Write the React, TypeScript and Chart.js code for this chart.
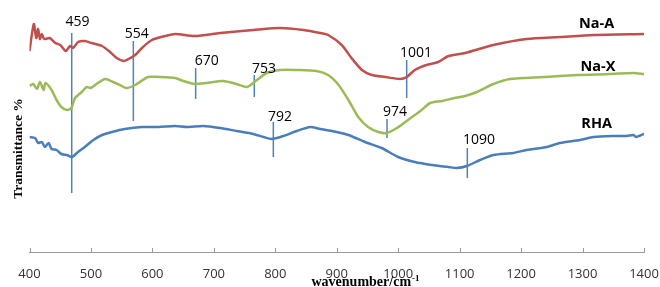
import { useEffect, useRef } from 'react';
import { Chart, registerables } from 'chart.js';

Chart.register(...registerables);

// ---- Data (wavenumber in cm-1, transmittance in arbitrary units) ----
const naAWave = [400,407,411,414,417,420,424,433,442,450,459,466,471,479,490,501,518,531,542,553,561,572,583,599,621,637,669,710,764,808,846,873,886,908,924,941,957,979,1003,1014,1027,1046,1065,1082,1109,1155,1209,1263,1318,1400];
const naAValue = [201,228,214,223,213,218,213,214,209,207,201,206,204,210,211,209,206,200,194,191,193,197,204,212,216,218,216,219,222,224,222,219,217,207,194,182,177,175,173,175,182,187,190,196,199,207,213,215,217,218];

const naXWave = [400,406,412,417,423,426,436,444,452,461,468,474,485,493,499,509,523,536,547,558,572,593,610,637,650,669,688,715,737,754,770,786,808,835,867,886,903,919,935,951,968,981,998,1016,1038,1052,1071,1092,1109,1128,1155,1182,1236,1291,1345,1383,1400];
const naXValue = [166,168,163,170,162,169,162,152,145,142,144,154,160,165,164,168,173,170,167,164,167,175,175,174,171,168,169,171,168,165,172,179,182,182,181,177,167,152,135,125,120,119,124,132,142,149,151,154,156,160,168,173,175,177,178,179,178];

const rhaWave = [400,409,414,420,425,431,436,444,452,461,469,479,490,504,518,534,555,583,610,637,656,683,710,737,764,781,794,813,835,857,873,892,919,946,973,1000,1027,1055,1082,1095,1112,1133,1155,1187,1209,1242,1263,1296,1318,1350,1372,1383,1387,1400];
const rhaValue = [115,114,109,110,105,109,103,102,98,97,95,100,105,112,117,120,123,125,125,126,125,126,124,121,118,115,113,116,121,125,123,121,117,110,104,95,90,87,85,84,86,92,97,99,102,105,109,112,115,116,116,117,115,118];

const seriesNames = ['Na-A', 'Na-X', 'RHA'];
const seriesLabelX = [1323, 1325, 1323];
const seriesLabelY = [228, 185, 128];

// Peak markers
const peakLabels = ['459', '554', '670', '753', '792', '974', '1001', '1090'];
const peakPos = [468.7, 569, 670.4, 765.8, 796.8, 981.8, 1013.8, 1112.5];
const peakTop = [219, 211, 184, 177, 130, 133, 192, 104];
const peakBottom = [59, 131, 153, 155, 95, 114, 154, 74];
const peakLabelX = [478, 574.5, 688.4, 781.6, 807.6, 994.8, 1028.9, 1131.5];
const peakLabelY = [230, 218, 191, 183, 135, 140, 199, 112];

const xTicksMin = 400;
const xTicksMax = 1400;
const xTickStep = 100;

const COLORS = ['#C0504D', '#9BBB59', '#4A7EBB'];
const MARKER_COLOR = '#4F81BD';

const annotPlugin = {
  id: 'annot',
  afterDatasetsDraw(chart: any) {
    const { ctx, chartArea } = chart;
    const x = chart.scales.x;
    const y = chart.scales.y;
    ctx.save();
    // tick marks (pointing up)
    ctx.strokeStyle = '#999999';
    ctx.lineWidth = 1;
    x.ticks.forEach((t: any) => {
      const px = Math.round(x.getPixelForValue(t.value)) + 0.5;
      ctx.beginPath();
      ctx.moveTo(px, chartArea.bottom - 4);
      ctx.lineTo(px, chartArea.bottom);
      ctx.stroke();
    });
    // peak labels
    ctx.fillStyle = '#000000';
    ctx.font = '14px "Open Sans"';
    ctx.textAlign = 'center';
    ctx.textBaseline = 'middle';
    peakLabels.forEach((t, i) => {
      ctx.fillText(t, x.getPixelForValue(peakLabelX[i]), y.getPixelForValue(peakLabelY[i]));
    });
    // series labels
    ctx.font = 'bold 14.5px "Open Sans"';
    seriesNames.forEach((t, i) => {
      ctx.fillText(t, x.getPixelForValue(seriesLabelX[i]), y.getPixelForValue(seriesLabelY[i]));
    });
    // x axis title
    ctx.textAlign = 'left';
    ctx.textBaseline = 'alphabetic';
    ctx.font = 'bold 14px "Liberation Serif"';
    const title = 'wavenumber/cm';
    const tx = 311.5;
    const ty = 285.5;
    ctx.fillText(title, tx, ty);
    const w = ctx.measureText(title).width;
    ctx.font = 'bold 9px "Liberation Serif"';
    ctx.fillText('-1', tx + w + 1, ty - 5);
    // y axis title
    ctx.save();
    ctx.translate(21.5, 148.5);
    ctx.rotate(-Math.PI / 2);
    ctx.font = 'bold 13.5px "Liberation Serif"';
    ctx.textAlign = 'center';
    ctx.fillText('Transmittance %', 0, 0);
    ctx.restore();
    ctx.restore();
  },
};

export default function App() {
  const canvasRef = useRef<HTMLCanvasElement | null>(null);

  useEffect(() => {
    if (!canvasRef.current) return;
    const mk = (xs: number[], ys: number[]) => xs.map((v, i) => ({ x: v, y: ys[i] }));
    const seriesDatasets = [
      mk(naAWave, naAValue),
      mk(naXWave, naXValue),
      mk(rhaWave, rhaValue),
    ].map((d, i) => ({
      label: seriesNames[i],
      data: d,
      borderColor: COLORS[i],
      borderWidth: 2.5,
      pointRadius: 0,
      fill: false,
      tension: 0.25,
    }));
    const markerDatasets = peakPos.map((p, i) => ({
      label: 'peak ' + peakLabels[i],
      data: [
        { x: p, y: peakBottom[i] },
        { x: p, y: peakTop[i] },
      ],
      borderColor: MARKER_COLOR,
      borderWidth: 1.5,
      pointRadius: 0,
      fill: false,
      tension: 0,
    }));

    const chart = new Chart(canvasRef.current, {
      type: 'line',
      data: { datasets: [...seriesDatasets, ...markerDatasets] as any },
      plugins: [annotPlugin],
      options: {
        animation: false,
        responsive: false,
        devicePixelRatio: 1,
        layout: { padding: { left: 29.5, right: 16, top: 10, bottom: 0 } },
        plugins: { legend: { display: false }, tooltip: { enabled: false } },
        scales: {
          x: {
            type: 'linear',
            min: xTicksMin,
            max: xTicksMax,
            afterFit: (s: any) => {
              s.height = 35;
              s.paddingLeft = 0;
              s.paddingRight = 0;
            },
            ticks: {
              stepSize: xTickStep,
              autoSkip: false,
              maxRotation: 0,
              padding: 14,
              color: '#333333',
              font: { family: '"Open Sans"', size: 13 },
              callback: (v: any) => String(v),
            },
            grid: { display: false, drawTicks: false },
            border: { display: true, color: '#999999', width: 1 },
          },
          y: { display: false, min: 0, max: 242 },
        },
      } as any,
    });
    return () => chart.destroy();
  }, []);

  return (
    <div style={{ position: 'fixed', left: 0, top: 0, width: 660, height: 287, background: '#fff' }}>
      <canvas ref={canvasRef} width={660} height={287} style={{ width: 660, height: 287 }} />
    </div>
  );
}
